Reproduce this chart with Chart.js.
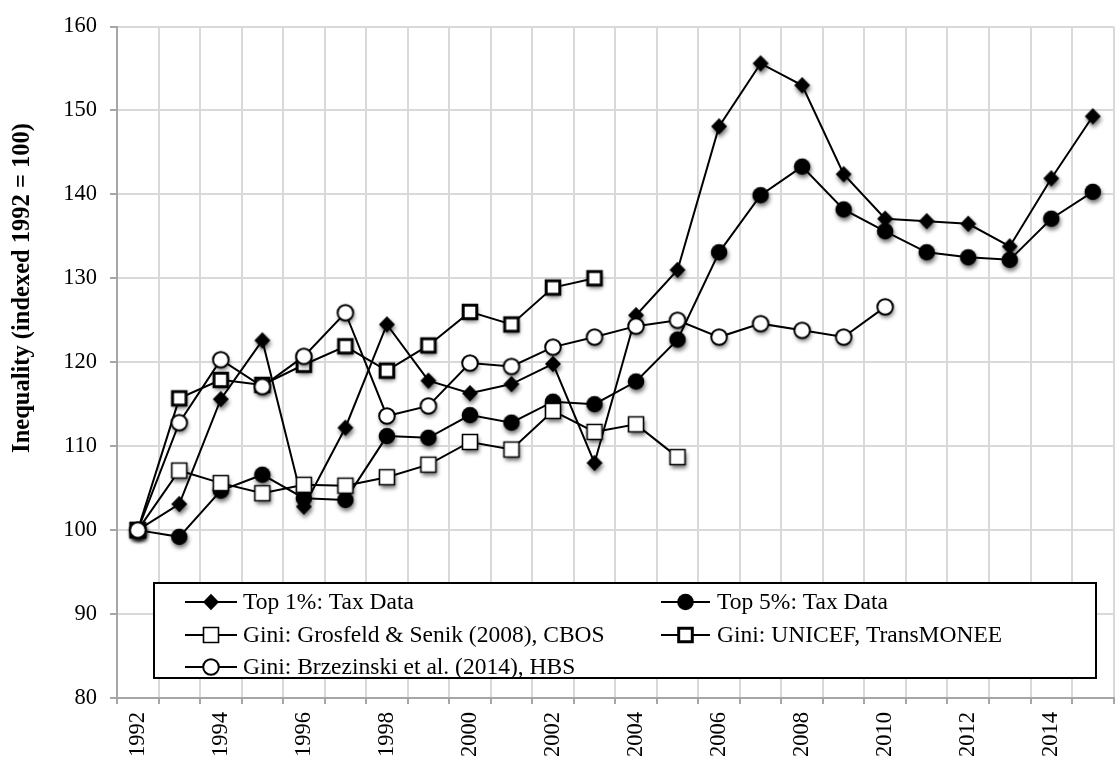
<!DOCTYPE html>
<html>
<head>
<meta charset="utf-8">
<script src="https://cdn.jsdelivr.net/npm/chart.js@4"></script>
<style>
html, body { margin: 0; padding: 0; background: #fff; overflow: hidden; }
canvas { display: block; }
</style>
</head>
<body>
<canvas id="chart" width="1128" height="759"></canvas>
<script>
const years = ['1992', '1993', '1994', '1995', '1996', '1997', '1998', '1999', '2000', '2001', '2002', '2003',
	'2004', '2005', '2006', '2007', '2008', '2009', '2010', '2011', '2012', '2013', '2014', '2015'];

const top1Tax = [100, 103.1, 115.6, 122.6, 102.8, 112.2, 124.5, 117.8, 116.3, 117.4, 119.8, 108.0,
	125.6, 131.0, 148.1, 155.6, 153.0, 142.4, 137.1, 136.8, 136.5, 133.8, 141.9, 149.3];
const top5Tax = [100, 99.2, 104.7, 106.6, 103.8, 103.6, 111.2, 111.0, 113.7, 112.8, 115.3, 115.0,
	117.7, 122.7, 133.1, 139.9, 143.3, 138.2, 135.6, 133.1, 132.5, 132.2, 137.1, 140.3];
const giniCbos = [100, 107.1, 105.6, 104.4, 105.4, 105.3, 106.3, 107.8, 110.5, 109.6, 114.2, 111.7,
	112.6, 108.7, null, null, null, null, null, null, null, null, null, null];
const giniUnicef = [100, 115.7, 117.9, 117.3, 119.7, 121.9, 119.0, 122.0, 126.0, 124.5, 128.9, 130.0,
	null, null, null, null, null, null, null, null, null, null, null, null];
const giniHbs = [100, 112.8, 120.3, 117.1, 120.7, 125.9, 113.6, 114.8, 119.9, 119.5, 121.8, 123.0,
	124.3, 125.0, 123.0, 124.6, 123.8, 123.0, 126.6, null, null, null, null, null];

const seriesLabels = [
	'Top 1%: Tax Data',
	'Top 5%: Tax Data',
	'Gini: Grosfeld & Senik (2008), CBOS',
	'Gini: UNICEF, TransMONEE',
	'Gini: Brzezinski et al. (2014), HBS',
];
const markerKinds = ['diamond', 'dot', 'square', 'squareBold', 'ring'];
const yTitle = 'Inequality (indexed 1992 = 100)';

const FONT = '"Liberation Serif", "Times New Roman", serif';

function drawMarker(ctx, kind, x, y, shadow) {
	ctx.save();
	if (shadow) {
		ctx.shadowColor = 'rgba(0,0,0,0.55)';
		ctx.shadowBlur = 4;
		ctx.shadowOffsetX = 1;
		ctx.shadowOffsetY = 3;
	}
	ctx.beginPath();
	if (kind === 'diamond') {
		ctx.moveTo(x, y - 8.2);
		ctx.lineTo(x + 8, y);
		ctx.lineTo(x, y + 8.2);
		ctx.lineTo(x - 8, y);
		ctx.closePath();
		ctx.fillStyle = '#000';
		ctx.fill();
	} else if (kind === 'dot') {
		ctx.arc(x, y, 8.3, 0, Math.PI * 2);
		ctx.fillStyle = '#000';
		ctx.fill();
	} else {
		let lw = 2;
		if (kind === 'square') {
			ctx.rect(x - 7.5, y - 7.5, 15, 15);
			lw = 1.6;
		} else if (kind === 'squareBold') {
			ctx.rect(x - 6.8, y - 6.8, 13.6, 13.6);
			lw = 3;
		} else {
			ctx.arc(x, y, 7.8, 0, Math.PI * 2);
		}
		ctx.fillStyle = '#fff';
		ctx.fill();
		ctx.shadowColor = 'rgba(0,0,0,0)';
		ctx.lineWidth = lw;
		ctx.strokeStyle = '#000';
		ctx.stroke();
	}
	ctx.restore();
}

function markerImage(kind) {
	const c = document.createElement('canvas');
	c.width = 32;
	c.height = 32;
	drawMarker(c.getContext('2d'), kind, 16, 16, true);
	return c;
}

const seriesData = [top1Tax, top5Tax, giniCbos, giniUnicef, giniHbs];
const datasets = seriesData.map((data, i) => ({
	label: seriesLabels[i],
	data,
	borderColor: '#000',
	borderWidth: 2,
	backgroundColor: '#000',
	pointStyle: markerImage(markerKinds[i]),
	pointRadius: 8,
	fill: false,
	tension: 0,
	order: seriesData.length - i,
}));

// legend box drawn inside the plot, two columns
const boxLegend = {
	id: 'boxLegend',
	afterDraw(chart) {
		const ctx = chart.ctx;
		ctx.save();
		ctx.fillStyle = '#fff';
		ctx.fillRect(154, 583, 942, 95);
		ctx.lineWidth = 2;
		ctx.strokeStyle = '#000';
		ctx.strokeRect(154, 583, 942, 95);
		const cols = [{ x0: 185, x1: 237, text: 243 }, { x0: 661, x1: 710, text: 717 }];
		const rows = [602, 635, 667];
		ctx.font = '23.5px ' + FONT;
		ctx.textBaseline = 'middle';
		seriesLabels.forEach((label, i) => {
			const col = cols[i % 2];
			const y = rows[Math.floor(i / 2)];
			ctx.beginPath();
			ctx.moveTo(col.x0, y);
			ctx.lineTo(col.x1, y);
			ctx.lineWidth = 2;
			ctx.strokeStyle = '#000';
			ctx.stroke();
			drawMarker(ctx, markerKinds[i], (col.x0 + col.x1) / 2, y, false);
			ctx.fillStyle = '#000';
			ctx.fillText(label, col.text, y + 1);
		});
		ctx.restore();
	},
};

const sideTitle = {
	id: 'sideTitle',
	afterDraw(chart) {
		const ctx = chart.ctx;
		ctx.save();
		ctx.translate(23, 288);
		ctx.rotate(-Math.PI / 2);
		ctx.font = 'bold 24.5px ' + FONT;
		ctx.fillStyle = '#000';
		ctx.textAlign = 'center';
		ctx.textBaseline = 'middle';
		ctx.fillText(yTitle, 0, 0);
		ctx.restore();
	},
};

new Chart(document.getElementById('chart'), {
	type: 'line',
	data: { labels: years, datasets },
	plugins: [boxLegend, sideTitle],
	options: {
		responsive: false,
		animation: false,
		layout: { padding: { top: 20, right: 0, left: 0, bottom: 0 } },
		plugins: {
			legend: { display: false },
			tooltip: { enabled: false },
		},
		scales: {
			x: {
				offset: true,
				grid: { offset: true, color: '#d9d9d9', lineWidth: 2, tickColor: '#a6a6a6', tickLength: 6 },
				border: { color: '#a6a6a6', width: 2 },
				ticks: {
					autoSkip: false,
					minRotation: 90,
					maxRotation: 90,
					padding: 8,
					color: '#000',
					font: { family: FONT, size: 22.5 },
					callback(value, index) {
						return index % 2 === 0 ? this.getLabelForValue(value) : '';
					},
				},
				afterFit(scale) {
					scale.height = 61;
				},
			},
			y: {
				min: 80,
				max: 160,
				grid: { color: '#d9d9d9', lineWidth: 2, tickColor: '#a6a6a6', tickLength: 7 },
				border: { color: '#a6a6a6', width: 2 },
				ticks: {
					stepSize: 10,
					padding: 13,
					color: '#000',
					font: { family: FONT, size: 22.5 },
				},
				afterFit(scale) {
					scale.width = 117;
				},
			},
		},
	},
});
</script>
</body>
</html>
